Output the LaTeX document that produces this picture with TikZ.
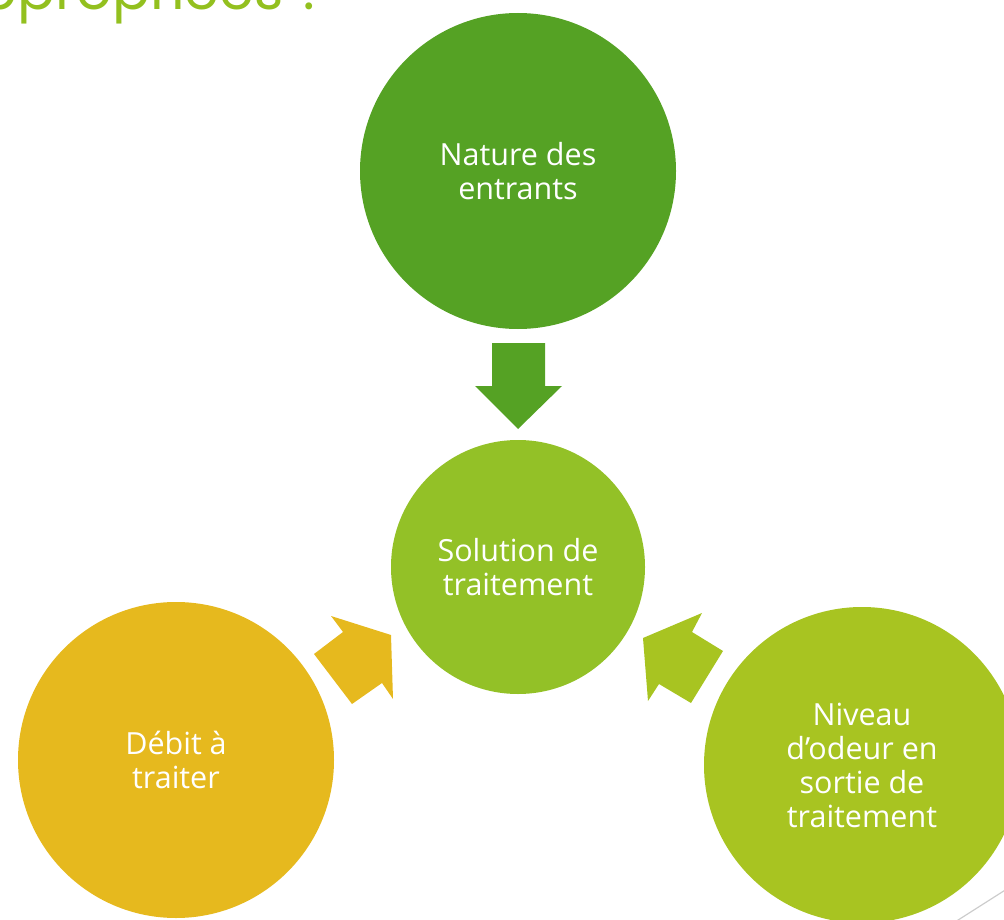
\documentclass[tikz,border=0pt]{standalone}
\usepackage{fontspec}
\setmainfont{Open Sans}
\newfontfamily\titlefont{Poppins}
\definecolor{cTop}{HTML}{55A224}
\definecolor{cMid}{HTML}{93C127}
\definecolor{cLeft}{HTML}{E6B91E}
\definecolor{cRight}{HTML}{A8C421}
\definecolor{cTitle}{HTML}{93C01F}
\begin{document}
\begin{tikzpicture}[x=1pt,y=-1pt,
  bubble/.style={circle,inner sep=0pt,align=center,text=white,font=\fontsize{30.5}{34}\selectfont},
  blockarrow/.style={draw=none}]
\useasboundingbox (0,0) rectangle (1004,920);
\clip (0,0) rectangle (1004,920);
\node[anchor=base east,text=cTitle,font=\titlefont\fontsize{56}{64}\selectfont,inner sep=0pt] (title) at (328,10) {appropriées ?};
\node[bubble,fill=cTop,minimum size=316pt] (top) at (518,171) {Nature des\\entrants};
\node[bubble,fill=cMid,minimum size=254pt] (mid) at (518,567) {Solution de\\traitement};
\node[bubble,fill=cLeft,minimum size=316pt] (left) at (176,760) {Débit à\\traiter};
\node[bubble,fill=cRight,minimum size=316pt] (right) at (862,765) {Niveau\\d’odeur en\\sortie de\\traitement};
% block arrows
\fill[cTop] (492,343) -- (545,343) -- (545,386) -- (562,386) -- (518,429) -- (475,386) -- (492,386) -- cycle;
\fill[cLeft] (331,616) -- (391,635) -- (393,699) -- (382,683) -- (352,704) -- (314,654) -- (343,632) -- cycle;
\fill[cRight] (702,613) -- (692,632) -- (723,651) -- (691,703) -- (659,684) -- (648,701) -- (643,638) -- cycle;
% decoration line
\draw[gray!40,line width=1.2pt] (1010,887) -- (955,922);
\end{tikzpicture}
\end{document}
